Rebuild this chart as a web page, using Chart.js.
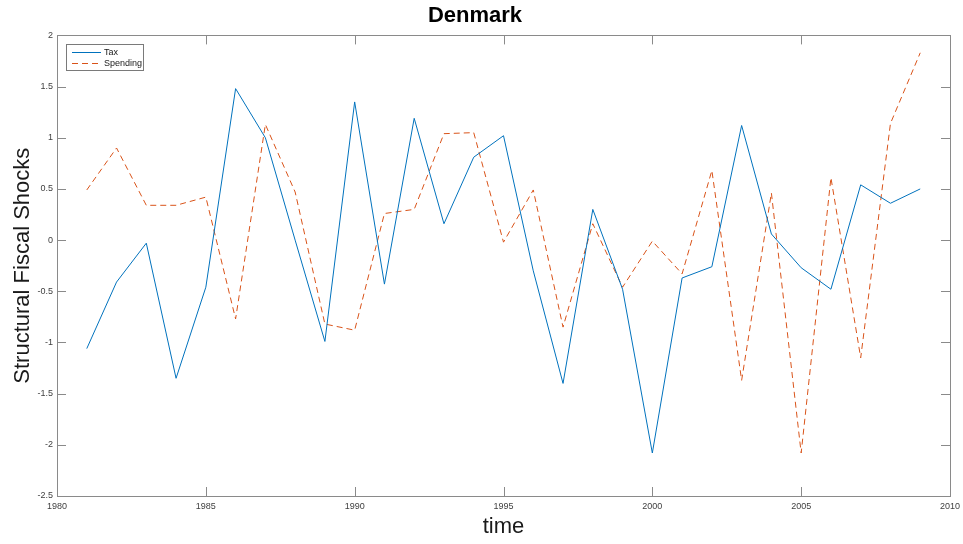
<!DOCTYPE html>
<html>
<head>
<meta charset="utf-8">
<title>Denmark</title>
<script src="https://cdn.jsdelivr.net/npm/chart.js@4.4.1/dist/chart.umd.min.js"></script>
<style>
  html, body { margin: 0; padding: 0; background: #fff; }
  #chart { display: block; }
</style>
</head>
<body>
<canvas id="chart" width="963" height="544"></canvas>
<script>
// data
var years = [1981, 1982, 1983, 1984, 1985, 1986, 1987, 1988, 1989, 1990,
             1991, 1992, 1993, 1994, 1995, 1996, 1997, 1998, 1999, 2000,
             2001, 2002, 2003, 2004, 2005, 2006, 2007, 2008, 2009];

var tax = [-1.06, -0.41, -0.03, -1.35, -0.46, 1.48, 1.0, 0.0, -0.99, 1.35,
           -0.43, 1.19, 0.16, 0.81, 1.02, -0.3, -1.4, 0.3, -0.48, -2.08,
           -0.37, -0.26, 1.12, 0.06, -0.27, -0.48, 0.54, 0.36, 0.5];

var spending = [0.49, 0.9, 0.34, 0.34, 0.42, -0.77, 1.13, 0.47, -0.82, -0.88,
                0.26, 0.3, 1.04, 1.05, -0.02, 0.49, -0.85, 0.16, -0.46, -0.01,
                -0.33, 0.68, -1.37, 0.46, -2.08, 0.61, -1.15, 1.14, 1.83];

var xMin = 1980, xMax = 2010, xStep = 5;
var yMin = -2.5, yMax = 2, yStep = 0.5;

var taxColor = '#0072BD';
var spendColor = '#D95319';
var axisColor = '#8a8a8a';
var labelColor = '#404040';

function toPoints(xs, ys) {
    var out = [];
    for (var i = 0; i < xs.length; i++) out.push({ x: xs[i], y: ys[i] });
    return out;
}

// MATLAB style box, inward ticks and legend
var matlabBox = {
    id: 'matlabBox',
    afterDraw: function(chart) {
        var ctx = chart.ctx;
        var a = chart.chartArea;
        var xs = chart.scales.x, ys = chart.scales.y;
        var tl = 9;
        ctx.save();
        ctx.strokeStyle = axisColor;
        ctx.lineWidth = 1;
        ctx.strokeRect(Math.round(a.left) + 0.5, Math.round(a.top) + 0.5,
                       Math.round(a.right - a.left), Math.round(a.bottom - a.top));
        ctx.beginPath();
        xs.ticks.forEach(function(t) {
            var px = Math.round(xs.getPixelForValue(t.value)) + 0.5;
            ctx.moveTo(px, a.bottom); ctx.lineTo(px, a.bottom - tl);
            ctx.moveTo(px, a.top); ctx.lineTo(px, a.top + tl);
        });
        ys.ticks.forEach(function(t) {
            var py = Math.round(ys.getPixelForValue(t.value)) + 0.5;
            ctx.moveTo(a.left, py); ctx.lineTo(a.left + tl, py);
            ctx.moveTo(a.right, py); ctx.lineTo(a.right - tl, py);
        });
        ctx.stroke();

        // legend
        var lx = Math.round(a.left) + 9, ly = Math.round(a.top) + 9;
        ctx.fillStyle = '#fff';
        ctx.fillRect(lx, ly, 77, 26);
        ctx.strokeStyle = '#7a7a7a';
        ctx.strokeRect(lx + 0.5, ly + 0.5, 77, 26);

        ctx.lineWidth = 1;
        ctx.strokeStyle = taxColor;
        ctx.beginPath();
        ctx.moveTo(lx + 6, ly + 8.5); ctx.lineTo(lx + 35, ly + 8.5);
        ctx.stroke();
        ctx.strokeStyle = spendColor;
        ctx.setLineDash([6, 4]);
        ctx.beginPath();
        ctx.moveTo(lx + 6, ly + 19.5); ctx.lineTo(lx + 35, ly + 19.5);
        ctx.stroke();
        ctx.setLineDash([]);

        ctx.fillStyle = '#1a1a1a';
        ctx.font = '9px "Liberation Sans", Arial, sans-serif';
        ctx.textBaseline = 'middle';
        ctx.textAlign = 'left';
        ctx.fillText('Tax', lx + 38, ly + 8.5);
        ctx.fillText('Spending', lx + 38, ly + 19.5);
        ctx.restore();
    }
};

var ctx = document.getElementById('chart').getContext('2d');
var chart = new Chart(ctx, {
    type: 'line',
    data: {
        datasets: [{
            label: 'Tax',
            data: toPoints(years, tax),
            borderColor: taxColor,
            borderWidth: 1,
            pointRadius: 0,
            tension: 0,
            fill: false
        }, {
            label: 'Spending',
            data: toPoints(years, spending),
            borderColor: spendColor,
            borderWidth: 1,
            borderDash: [6, 4],
            pointRadius: 0,
            tension: 0,
            fill: false
        }]
    },
    options: {
        responsive: false,
        animation: false,
        layout: { padding: { left: 0, right: 13, top: 0, bottom: 0 } },
        plugins: {
            legend: { display: false },
            tooltip: { enabled: false },
            title: {
                display: true,
                text: 'Denmark',
                color: '#000',
                font: { family: '"Liberation Sans", Arial, sans-serif', size: 22, weight: 'bold' },
                padding: { top: 3, bottom: 6 }
            }
        },
        scales: {
            x: {
                type: 'linear',
                min: xMin,
                max: xMax,
                grid: { display: false, drawTicks: false },
                border: { display: false },
                ticks: {
                    stepSize: xStep,
                    color: labelColor,
                    padding: 5,
                    maxRotation: 0,
                    font: { family: '"Liberation Sans", Arial, sans-serif', size: 9 },
                    callback: function(v) { return String(v); }
                },
                title: {
                    display: true,
                    text: 'time',
                    color: '#1a1a1a',
                    font: { family: '"Liberation Sans", Arial, sans-serif', size: 22 },
                    padding: { top: 0, bottom: 4 }
                },
                afterFit: function(scale) {
                    scale.height = 48;
                    scale.paddingLeft = 0;
                    scale.paddingRight = 0;
                }
            },
            y: {
                min: yMin,
                max: yMax,
                grid: { display: false, drawTicks: false },
                border: { display: false },
                ticks: {
                    stepSize: yStep,
                    color: labelColor,
                    padding: 4,
                    font: { family: '"Liberation Sans", Arial, sans-serif', size: 9 },
                    callback: function(v) { return String(v); }
                },
                title: {
                    display: true,
                    text: 'Structural Fiscal Shocks',
                    color: '#1a1a1a',
                    font: { family: '"Liberation Sans", Arial, sans-serif', size: 22 },
                    padding: { top: 10, bottom: 0 }
                },
                afterFit: function(scale) { scale.width = 57; }
            }
        }
    },
    plugins: [matlabBox]
});
</script>
</body>
</html>
